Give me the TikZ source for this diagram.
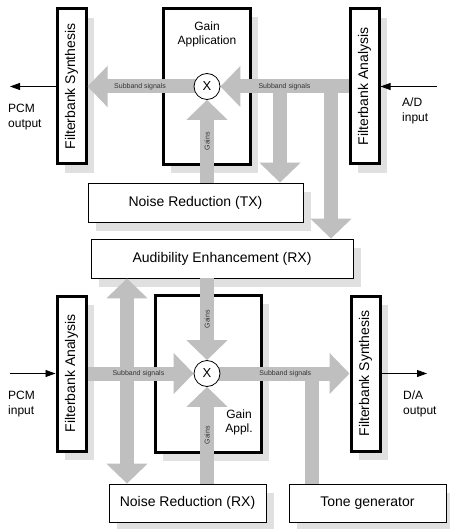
\documentclass[tikz,border=0pt]{standalone}
\usepackage{fontspec}
\setmainfont{Liberation Sans}
\usetikzlibrary{arrows.meta}
\usetikzlibrary{shadows}

\pgfdeclarelayer{front}
\pgfsetlayers{main,front}

\tikzset{bigtip/.tip={Triangle[length=20pt,width=40pt]}}

\begin{document}
\begin{tikzpicture}[x=1pt,y=-1pt,
        box/.style={draw,line width=0.8pt,fill=white,inner sep=0pt,
            drop shadow={shadow xshift=8pt,shadow yshift=-9pt,fill=black!12,opacity=1},
            font=\fontsize{14}{16}\selectfont},
        fbank/.style={box,line width=3pt,minimum width=29pt,minimum height=155pt},
        gainbox/.style={box,line width=3pt},
        mult/.style={circle,draw,fill=white,line width=0.8pt,minimum size=26pt,inner sep=0pt,
            font=\fontsize{13}{13}\selectfont},
        flow/.style={line width=14pt,black!25,-bigtip},
        dflow/.style={line width=14pt,black!25,bigtip-bigtip},
        bar/.style={line width=14pt,black!25},
        sig/.style={line width=0.8pt,-{Triangle[length=10pt,width=7pt]}},
        smalllbl/.style={text=black!80,font=\fontsize{7}{8}\selectfont},
        iolbl/.style={anchor=west,align=left,inner sep=0pt,font=\fontsize{12}{15.5}\selectfont}]
        \useasboundingbox (0,0) rectangle (449,529);

        % transmit path
        \node[fbank] (fbs1) at (71.5,86.5) {\rotatebox{90}{Filterbank Synthesis}};
        \node[gainbox,minimum width=87pt,minimum height=156pt] (gain1) at (206.5,86.5) {};
        \node[align=center,font=\fontsize{12}{14}\selectfont] (gain1txt) at (207,34) {Gain\\Application};
        \node[fbank] (fba1) at (364.5,86.5) {\rotatebox{90}{Filterbank Analysis}};
        \node[box,minimum width=215pt,minimum height=39pt] (nrtx) at (195.5,202.5) {Noise Reduction (TX)};
        \node[box,minimum width=262pt,minimum height=39pt] (aud) at (222,258.5) {Audibility Enhancement (RX)};

        % receive path
        \node[fbank] (fba2) at (71.5,373.5) {\rotatebox{90}{Filterbank Analysis}};
        \node[gainbox,minimum width=106pt,minimum height=157pt] (gain2) at (208,373.5) {};
        \node[align=center,font=\fontsize{12}{14}\selectfont] (gain2txt) at (239,422) {Gain\\Appl.};
        \node[fbank] (fbs2) at (365.5,373.5) {\rotatebox{90}{Filterbank Synthesis}};
        \node[box,minimum width=157pt,minimum height=38pt] (nrrx) at (187.5,503) {Noise Reduction (RX)};
        \node[box,minimum width=157pt,minimum height=38pt] (tone) at (367.5,503) {Tone generator};

        \begin{pgfonlayer}{front}
            \node[mult] (x1) at (207,86.5) {X};
            \node[mult] (x2) at (207,373.5) {X};
        \end{pgfonlayer}

        \coordinate (pcmout) at (10,86.5);
        \coordinate (adin) at (437,86.5);
        \coordinate (pcmin) at (10,373.5);
        \coordinate (daout) at (427,373.5);

        \draw[sig] (fbs1.west) -- (pcmout);
        \draw[sig] (adin) -- (fba1.east);
        \draw[sig] (pcmin) -- (fba2.west);
        \draw[sig] (fbs2.east) -- (daout);

        \node[iolbl] (pcmouttxt) at (8,117) {PCM\\output};
        \node[iolbl] (adintxt) at (402,111) {A/D\\input};
        \node[iolbl] (pcmintxt) at (8,404) {PCM\\input};
        \node[iolbl] (daouttxt) at (403,404) {D/A\\output};

        % vertical branches first, the subband paths go over them
        \draw[flow] (280,86.5) -- (280,86.5 |- nrtx.north);
        \draw[flow] (331,86.5) -- (331,86.5 |- aud.north);
        \draw[flow] (nrtx.north -| x1) -- (x1.south) node[smalllbl,midway,rotate=90] {Gains};
        \draw[bar] (312,373.5 |- tone.north) -- (312,373.5);
        \draw[dflow] (127,0 |- aud.south) -- (127,0 |- nrrx.north);
        \draw[flow] (aud.south -| x2) -- (x2.north) node[smalllbl,midway,rotate=90] {Gains};
        \draw[flow] (nrrx.north -| x2) -- (x2.south) node[smalllbl,midway,rotate=90] {Gains};

        \draw[flow] (x1.center) -- (fbs1.east) node[smalllbl,pos=.56] {Subband signals};
        \draw[flow] (fba1.west) -- (x1.east) node[smalllbl,midway] {Subband signals};
        \draw[flow] (fba2.east) -- (x2.west) node[smalllbl,pos=.48] {Subband signals};
        \draw[flow] (x2.center) -- (fbs2.west) node[smalllbl,pos=.55] {Subband signals};
    \end{tikzpicture}
\end{document}
